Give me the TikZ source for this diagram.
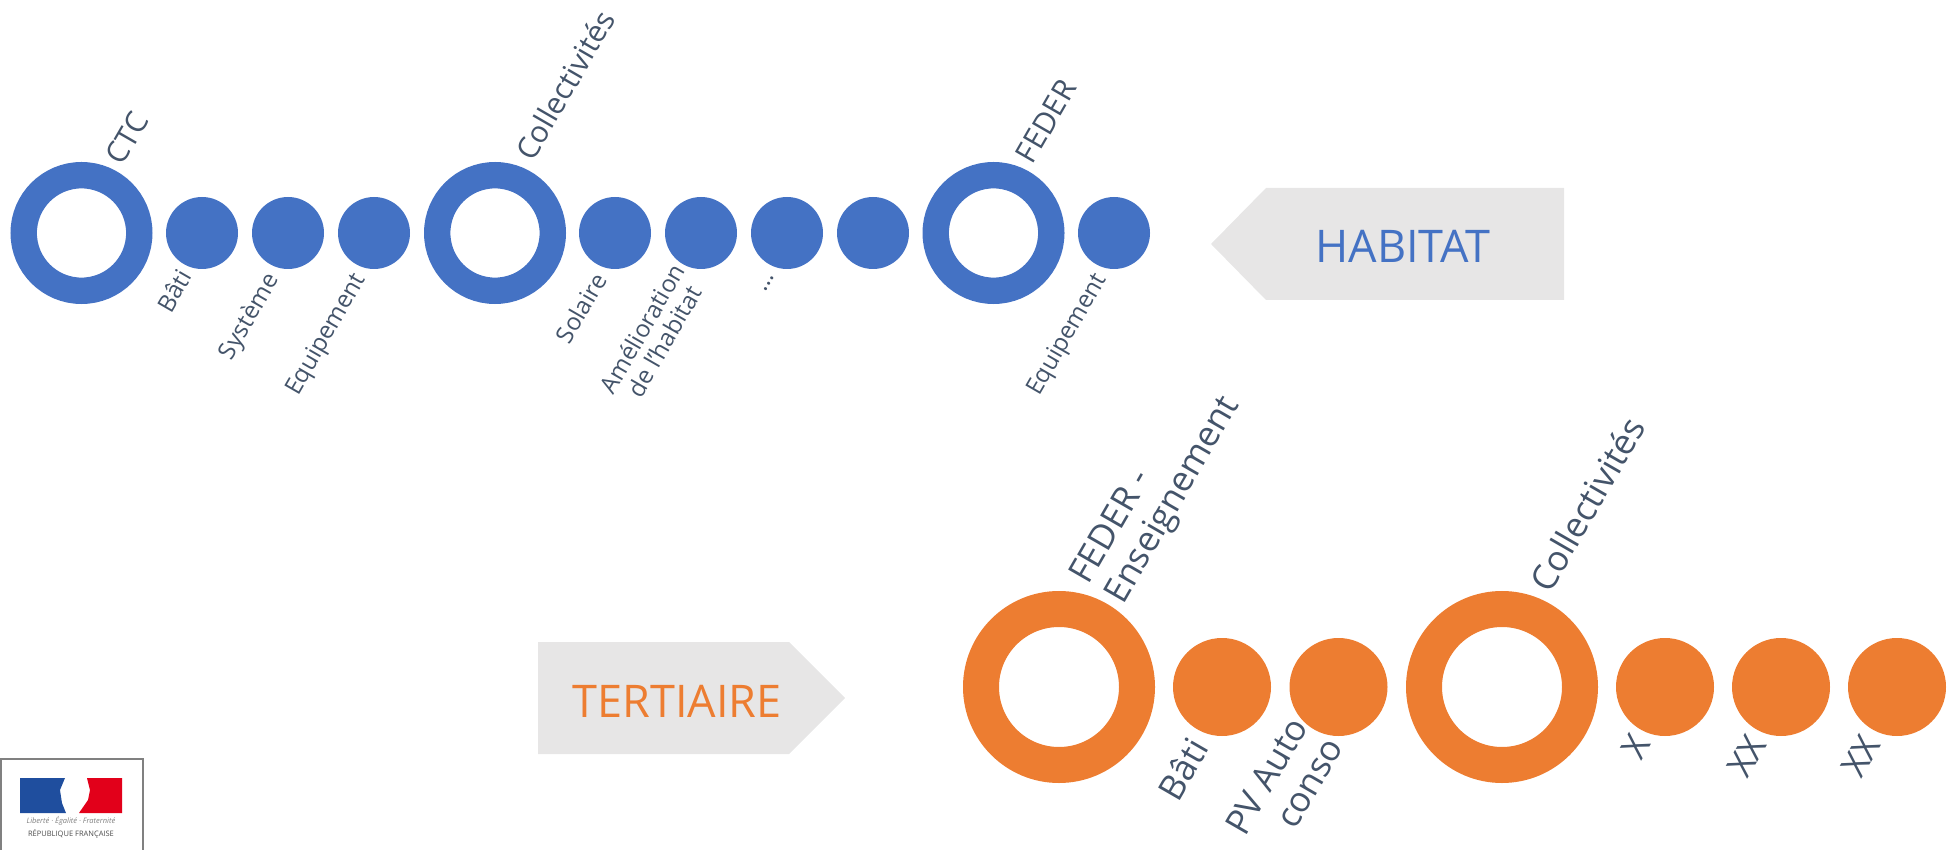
\documentclass[tikz,border=0pt]{standalone}
\usepackage{fontspec}
\setmainfont{Open Sans}
\usetikzlibrary{shapes.geometric}
\definecolor{habitatblue}{HTML}{4472C4}
\definecolor{tertiaireorange}{HTML}{ED7D31}
\definecolor{labelgray}{HTML}{44546A}
\definecolor{arrowgray}{HTML}{E7E6E6}
\definecolor{logoblue}{HTML}{1F4E9E}
\definecolor{logored}{HTML}{E2001A}
\tikzset{
  bluering/.style={circle,draw=habitatblue,line width=26.4pt,minimum size=115.6pt,inner sep=0pt},
  bluedot/.style={circle,fill=habitatblue,minimum size=72pt,inner sep=0pt},
  orangering/.style={circle,draw=tertiaireorange,line width=36pt,minimum size=156pt,inner sep=0pt},
  orangedot/.style={circle,fill=tertiaireorange,minimum size=98pt,inner sep=0pt},
  toplabel/.style={rotate=60,text=labelgray,align=center,font=\fontsize{30}{34}\selectfont},
  smalllabel/.style={rotate=60,text=labelgray,align=center,font=\fontsize{24}{26}\selectfont},
  biglabel/.style={rotate=60,text=labelgray,align=left,font=\fontsize{35}{40}\selectfont},
  sidetitle/.style={font=\fontsize{45}{50}\selectfont}
}
\begin{document}
\begin{tikzpicture}[x=1pt,y=-1pt]
  \useasboundingbox (0,0) rectangle (1952,850);
  % habitat row
  \node [bluering] (ctc) at (81.5,233) {};
  \node [bluedot] (bati) at (202,233) {};
  \node [bluedot] (systeme) at (288,233) {};
  \node [bluedot] (equip) at (374,233) {};
  \node [bluering] (coll) at (495,233) {};
  \node [bluedot] (solaire) at (615,233) {};
  \node [bluedot] (amelio) at (701,233) {};
  \node [bluedot] (points) at (787,233) {};
  \node [bluedot] (vide) at (873,233) {};
  \node [bluering] (feder) at (993.5,233) {};
  \node [bluedot] (equipb) at (1114,233) {};
  \node [toplabel] (ctclabel) at (127,138) {CTC};
  \node [toplabel] (colllabel) at (565,85) {Collectivités};
  \node [toplabel] (federlabel) at (1046,121) {FEDER};
  \node [smalllabel] (batilabel) at (174,291) {Bâti};
  \node [smalllabel] (systemelabel) at (250,317) {Système};
  \node [smalllabel] (equiplabel) at (327,335) {Equipement};
  \node [smalllabel] (solairelabel) at (581,308) {Solaire};
  \node [smalllabel] (ameliolabel) at (653,335) {Amélioration\\de l’habitat};
  \node [smalllabel] (pointslabel) at (769,284) {…};
  \node [smalllabel] (equipblabel) at (1068,335) {Equipement};
  \path [fill=arrowgray] (1211,244) -- (1266,188) -- (1564,188) -- (1564,300) -- (1266,300) -- cycle;
  \node [sidetitle,text=habitatblue] (habitat) at (1403,246) {HABITAT};
  % tertiaire row
  \node [orangering] (federens) at (1059,687) {};
  \node [orangedot] (batib) at (1222,687) {};
  \node [orangedot] (pv) at (1338.5,687) {};
  \node [orangering] (collb) at (1502,687) {};
  \node [orangedot] (x) at (1665,687) {};
  \node [orangedot] (xx) at (1781,687) {};
  \node [orangedot] (xxb) at (1897,687) {};
  \node [biglabel] (federenslabel) at (1157,491) {FEDER -\\Enseignement};
  \node [biglabel] (collblabel) at (1587,504) {Collectivités};
  \node [biglabel] (batiblabel) at (1183,769) {Bâti};
  \node [biglabel,align=right] (pvlabel) at (1284,786) {PV Auto\\conso};
  \node [biglabel] (xlabel) at (1636,747) {X};
  \node [biglabel] (xxlabel) at (1747,756) {XX};
  \node [biglabel] (xxblabel) at (1861,756) {XX};
  \path [fill=arrowgray] (538,642) -- (789,642) -- (845,698) -- (789,754) -- (538,754) -- cycle;
  \node [sidetitle,text=tertiaireorange] (tertiaire) at (677,701) {TERTIAIRE};
  % logo
  \draw [gray,line width=2pt] (1,850) -- (1,759) -- (143,759) -- (143,850);
  \path [fill=logoblue] (20,778) -- (65,778) -- (60,790) -- (62,803) -- (66,813) -- (20,813) -- cycle;
  \path [fill=logored] (87,778) -- (122,778) -- (122,813) -- (79,813) -- (88,800) -- (90,790) -- cycle;
  \node [text=gray,font=\fontsize{7.5}{8}\selectfont\itshape] (devise) at (71,821) {Liberté · Égalité · Fraternité};
  \node [text=black!70,font=\fontsize{7.5}{8}\selectfont] (republique) at (71,834) {RÉPUBLIQUE FRANÇAISE};
\end{tikzpicture}
\end{document}
